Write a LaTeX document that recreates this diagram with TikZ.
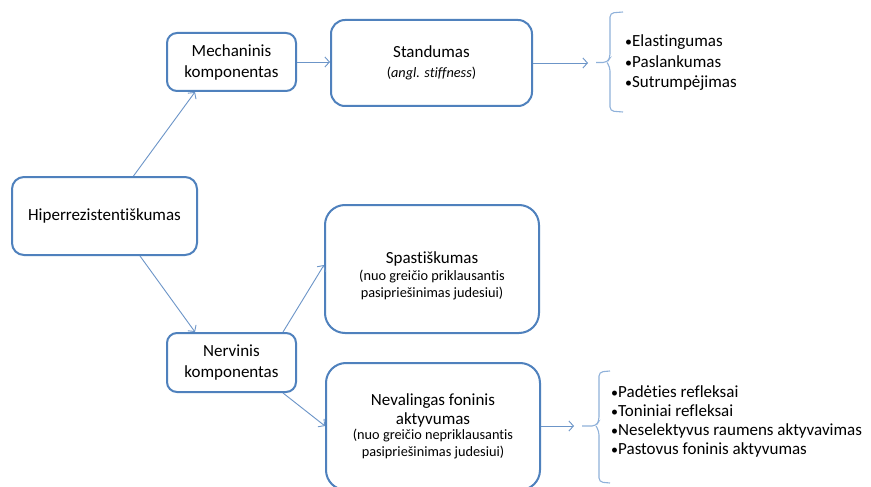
\documentclass[tikz,border=0pt]{standalone}
\usepackage{fontspec}
\setmainfont{Carlito}[Ligatures=NoCommon]
\usetikzlibrary{arrows.meta}
\definecolor{boxblue}{HTML}{4F81BD}
\definecolor{linkblue}{HTML}{6C95C8}
\definecolor{braceblue}{HTML}{8FB1DA}
\newcommand{\bigtxt}{\fontsize{17}{20}\selectfont}
\newcommand{\blt}{{\fontsize{14}{14}\selectfont •}}
\begin{document}
\begin{tikzpicture}[x=1pt,y=-1pt,
  box/.style={draw=boxblue, line width=2pt, fill=white, align=center, inner sep=2pt},
  bigfont/.style={font=\fontsize{17}{21}\selectfont},
  smfont/.style={font=\fontsize{14.3}{17}\selectfont},
  link/.style={draw=linkblue, line width=0.9pt, -{Straight Barb[length=4.5pt,width=10pt]}},
  bracestyle/.style={draw=braceblue, line width=1.1pt, rounded corners=4pt},
  listtext/.style={anchor=west, align=left, inner sep=0pt}
]
\useasboundingbox[fill=white] (0,0) rectangle (871,487);

\node[box, bigfont, minimum width=185pt, minimum height=78pt, rounded corners=12pt] (hiper) at (104.5,216) {Hiperrezistentiškumas};
\node[box, bigfont, minimum width=129pt, minimum height=58pt, rounded corners=10pt] (mech) at (231.5,62) {Mechaninis\\komponentas};
\node[box, bigfont, minimum width=129pt, minimum height=59pt, rounded corners=10pt] (nerv) at (231.5,362.5) {Nervinis\\komponentas};
\node[box, smfont, minimum width=201pt, minimum height=86pt, rounded corners=14pt] (stand) at (431.5,63)
  {\bigtxt Standumas\\[3pt](\textit{angl. stiffness})};
\node[box, minimum width=214pt, minimum height=128pt, rounded corners=20pt] (spast) at (432,269) {};
\node[smfont, align=center, inner sep=0pt] (spasttxt) at ([yshift=-7pt]spast.center)
  {\bigtxt Spastiškumas\\[0pt](nuo greičio priklausantis\\pasipriešinimas judesiui)};
\node[box, smfont, minimum width=214pt, minimum height=127pt, rounded corners=20pt] (neval) at (433,426.5)
  {\bigtxt Nevalingas foninis\\[2pt]\bigtxt aktyvumas\\[-2pt](nuo greičio nepriklausantis\\pasipriešinimas judesiui)};

% connectors
\draw[link] ([xshift=29pt]hiper.north) -- ([xshift=-36.5pt]mech.south);
\draw[link] ([xshift=35.5pt]hiper.south) -- ([xshift=-36.5pt]nerv.north);
\draw[link] ([xshift=51.5pt]nerv.north) -- ([yshift=4pt]spast.west);
\draw[link] ([xshift=51.5pt]nerv.south) -- ([yshift=0.5pt]neval.west);
\draw[link] (mech.east) -- (stand.west |- mech.east);

\coordinate (b1) at (588,63);
\coordinate (b2) at (574,426);
\draw[link] (stand.east) -- (b1);
\draw[link] (neval.east |- b2) -- (b2);

% braces
\draw[bracestyle] (623,12) -- (610,13) -- (610,58) -- (607,62.5) -- (596,62.5);
\draw[bracestyle] (607,62.5) -- (610,67) -- (610,111) -- (623,112);
\draw[bracestyle] (610,371) -- (599,372) -- (599,421) -- (596,426) -- (582,426);
\draw[bracestyle] (596,426) -- (599,431) -- (599,482) -- (610,483);

% lists
\node[listtext, font=\fontsize{17}{20.5}\selectfont] (list1) at (625,63)
  {\blt Elastingumas\\\blt Paslankumas\\\blt Sutrumpėjimas};
\node[listtext, font=\fontsize{17}{19}\selectfont] (list2) at (611,421)
  {\blt Padėties refleksai\\\blt Toniniai refleksai\\\blt Neselektyvus raumens aktyvavimas\\\blt Pastovus foninis aktyvumas};
\end{tikzpicture}
\end{document}
